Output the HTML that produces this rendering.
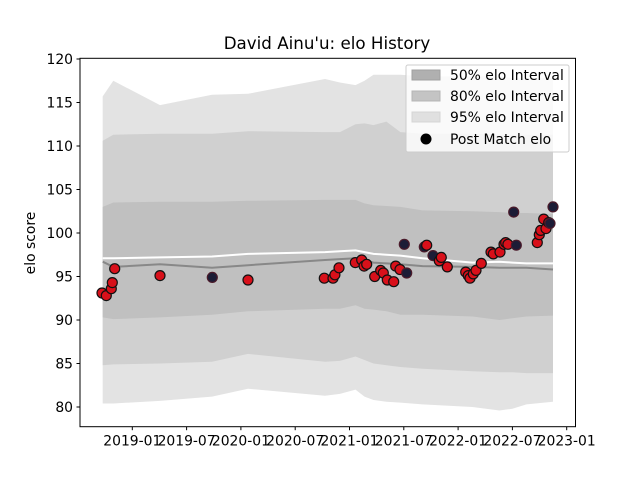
<!DOCTYPE html>
<html><head><meta charset="utf-8"><style>
body{margin:0;background:#fff;}
svg{display:block;font-family:"DejaVu Sans","Liberation Sans",sans-serif;}
</style></head><body>
<svg id="chart" width="640" height="480" viewBox="0 0 640 480">
<rect width="640" height="480" fill="#fff"/>
<text x="327" y="49" text-anchor="middle" font-size="16.7">David Ainu'u: elo History</text>
<text transform="translate(35,243) rotate(-90)" text-anchor="middle" font-size="13.9">elo score</text>
<g id="plot"></g>
<g id="axes"></g>
<g>
<rect x="406" y="65" width="163" height="87" rx="2" fill="#fff" fill-opacity="0.8" stroke="#ccc"/>
<rect x="412" y="70" width="28" height="10" fill="#b0b0b0" stroke="#a0a0a0"/>
<text x="450" y="80" font-size="13.9">50% elo Interval</text>
<rect x="412" y="91" width="28" height="10" fill="#c4c4c4" stroke="#b5b5b5"/>
<text x="450" y="101" font-size="13.9">80% elo Interval</text>
<rect x="412" y="112" width="28" height="10" fill="#e0e0e0" stroke="#d5d5d5"/>
<text x="450" y="122" font-size="13.9">95% elo Interval</text>
<circle cx="426" cy="139" r="5.5" fill="#000"/>
<text x="450" y="144" font-size="13.9">Post Match elo</text>
</g>
</svg>
<script>
const bandDates=[2018.727,2018.825,2019.255,2019.734,2020.065,2020.774,2020.912,2021.055,2021.138,2021.221,2021.340,2021.469,2021.672,2022.132,2022.381,2022.500,2022.629,2022.874];
const upper95=[115.7,117.5,114.7,115.9,116.0,117.7,117.3,117.0,117.5,118.2,118.2,118.2,118.0,118.0,118.0,117.8,117.8,117.8];
const upper80=[110.6,111.3,111.4,111.4,111.7,111.6,111.6,112.5,112.6,112.4,112.8,111.6,111.4,111.4,111.3,111.3,111.3,111.3];
const upper50=[103.0,103.5,103.6,103.6,103.7,103.8,103.8,103.8,103.4,103.2,103.1,103.0,102.6,102.5,102.4,102.3,102.3,102.2];
const meanLine=[96.7,96.1,96.4,96.0,96.3,96.9,97.0,97.1,96.9,96.6,96.5,96.4,96.2,96.1,96.0,96.0,96.0,95.8];
const whiteLine=[97.1,97.1,97.2,97.3,97.6,97.8,97.9,98.0,97.8,97.6,97.5,97.4,97.1,96.6,96.7,96.6,96.5,96.5];
const lower50=[90.3,90.1,90.3,90.6,91.0,91.3,91.3,91.7,91.3,91.2,91.0,90.6,90.6,90.4,90.0,90.2,90.4,90.5];
const lower80=[84.8,84.9,85.0,85.2,86.1,85.2,85.3,85.8,85.4,85.0,84.8,84.6,84.4,84.1,84.0,84.0,83.9,83.9];
const lower95=[80.4,80.4,80.7,81.2,82.1,81.3,81.5,82.0,81.2,80.8,80.6,80.5,80.3,80.0,79.6,79.8,80.3,80.6];
const matchDates=[2018.721,2018.761,2018.807,2018.816,2018.838,2019.255,2019.737,2020.065,2020.768,2020.848,2020.866,2020.903,2021.053,2021.112,2021.134,2021.158,2021.232,2021.287,2021.311,2021.348,2021.407,2021.425,2021.465,2021.505,2021.527,2021.689,2021.711,2021.769,2021.827,2021.845,2021.901,2022.070,2022.094,2022.110,2022.140,2022.165,2022.214,2022.303,2022.324,2022.386,2022.423,2022.438,2022.459,2022.512,2022.536,2022.729,2022.748,2022.761,2022.788,2022.809,2022.834,2022.846,2022.874];
const matchElo=[93.1,92.8,93.6,94.3,95.9,95.1,94.9,94.6,94.8,94.8,95.2,96.0,96.6,96.9,96.2,96.4,95.0,95.7,95.4,94.6,94.4,96.2,95.8,98.7,95.4,98.4,98.6,97.4,96.8,97.2,96.1,95.5,95.1,94.8,95.3,95.7,96.5,97.8,97.6,97.8,98.7,98.9,98.7,102.4,98.6,98.9,99.8,100.3,101.6,100.5,101.2,101.1,103.0];
const matchDark=[0,0,0,0,0,0,1,0,0,0,0,0,0,0,0,0,0,0,0,0,0,0,0,1,1,1,0,1,0,0,0,0,0,0,0,0,0,0,0,0,0,0,0,1,1,0,0,0,0,0,0,1,1];
const yTicks=[80,85,90,95,100,105,110,115,120];
const xTickYears=[2019,2019.5,2020,2020.5,2021,2021.5,2022,2022.5,2023];
const xTickLabels=["2019-01","2019-07","2020-01","2020-07","2021-01","2021-07","2022-01","2022-07","2023-01"];

const NS="http://www.w3.org/2000/svg";
const L=80,R=575.5,T=58.3,B=426.7;
const xs=y=>132.3+(y-2019)*108.6;
const ys=v=>59+(120-v)*8.7;
const plot=document.getElementById('plot'),axes=document.getElementById('axes');
function mk(tag,attrs,parent){const e=document.createElementNS(NS,tag);for(const k in attrs)e.setAttribute(k,attrs[k]);parent.appendChild(e);return e;}
function band(up,lo,fill){let d='';bandDates.forEach((t,i)=>{d+=(i?'L':'M')+xs(t).toFixed(1)+','+ys(up[i]).toFixed(1);});
 for(let i=bandDates.length-1;i>=0;i--)d+='L'+xs(bandDates[i]).toFixed(1)+','+ys(lo[i]).toFixed(1);return mk('path',{d:d+'Z',fill:fill},plot);}
let b=band(upper95,lower95,'#e3e3e3');


b=band(upper80,lower80,'#d0d0d0');


b=band(upper50,lower50,'#c0c0c0');


function line(vals,color,w){let d='';bandDates.forEach((t,i)=>{d+=(i?'L':'M')+xs(t).toFixed(1)+','+ys(vals[i]).toFixed(1);});return mk('path',{d:d,fill:'none',stroke:color,'stroke-width':w},plot);}
let ln=line(meanLine,'#888',2);


ln=line(whiteLine,'#fff',2);


matchDates.forEach((t,i)=>{const dark=matchDark[i];
 const c=mk('circle',{cx:xs(t).toFixed(1),cy:ys(matchElo[i]).toFixed(1),r:5,fill:dark?'#1c1c36':'#d8101a',stroke:dark?'#4a1a2a':'#111','stroke-width':1.2},plot);
 
 });
mk('rect',{x:L,y:T,width:R-L,height:B-T,fill:'none',stroke:'#000','stroke-width':1},axes);
yTicks.forEach(v=>{const y=ys(v);mk('line',{x1:L-3.5,x2:L,y1:y,y2:y,stroke:'#000'},axes);
 const t=mk('text',{x:L-7,y:y+5,'text-anchor':'end','font-size':13.9},axes);t.textContent=v;
 
 });
xTickYears.forEach((v,i)=>{const x=xs(v);mk('line',{x1:x,x2:x,y1:B,y2:B+3.5,stroke:'#000'},axes);
 const t=mk('text',{x:x,y:B+19,'text-anchor':'middle','font-size':13.9},axes);t.textContent=xTickLabels[i];
 
 });
</script>
</body></html>
